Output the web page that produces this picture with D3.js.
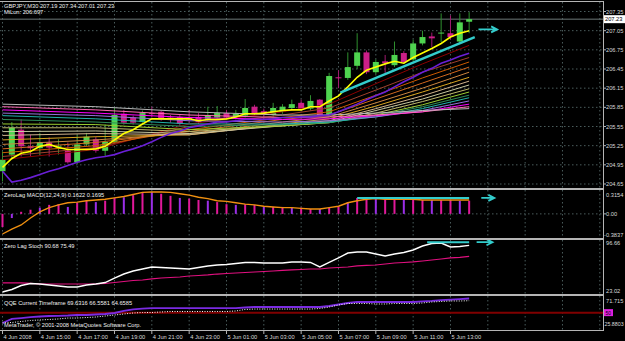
<!DOCTYPE html>
<html>
<head>
<meta charset="utf-8">
<script src="https://cdn.jsdelivr.net/npm/d3@7"></script>
<style>
  html, body { margin:0; padding:0; background:#000; }
  svg { display:block; }
  text { font-family:"Liberation Sans", Arial, sans-serif; font-size:5.7px; fill:#d8d8d8; }
</style>
</head>
<body>
<svg id="chart" width="625" height="341"></svg>
<script>
/* GBPJPY M30 — main chart + 3 sub windows */

const timeLabels = ['4 Jun 2008','4 Jun 15:00','4 Jun 17:00','4 Jun 19:00','4 Jun 21:00','4 Jun 23:00',
  '5 Jun 01:00','5 Jun 03:00','5 Jun 05:00','5 Jun 07:00','5 Jun 09:00','5 Jun 11:00','5 Jun 13:00'];

// candles, bar 0 = 4 Jun 13:00
const opens  = [204.85,205.11,205.50,205.24,205.21,205.30,205.22,205.17,204.99,205.27,205.35,205.17,205.31,205.75,205.69,205.62,205.76,
  205.78,205.69,205.70,205.69,205.70,205.67,205.69,205.76,205.69,205.72,205.86,205.79,205.73,205.78,205.84,205.92,205.83,205.97,205.73,
  206.32,206.31,206.50,206.71,206.40,206.57,206.51,206.70,206.60,206.85,206.96,207.01,207.01,206.88,207.19];
const highs  = [205.16,205.62,205.66,205.42,205.45,205.38,205.35,205.30,205.42,205.45,205.39,205.58,205.84,205.81,205.72,205.80,205.86,
  205.80,205.73,205.73,205.81,205.76,205.86,205.87,205.81,205.81,205.98,205.89,205.83,205.92,205.90,205.97,205.97,206.04,205.98,206.39,
  206.43,206.71,207.01,206.74,206.60,206.67,206.88,206.73,206.91,207.05,207.02,207.32,207.29,207.32,207.34];
const lows   = [204.69,205.03,205.08,205.08,205.11,205.08,205.11,204.97,204.96,205.24,205.14,205.08,205.30,205.58,205.58,205.61,205.69,
  205.64,205.61,205.56,205.61,205.59,205.64,205.66,205.66,205.66,205.69,205.73,205.70,205.70,205.75,205.81,205.80,205.80,205.72,205.72,
  206.15,206.28,206.45,206.37,206.37,206.39,206.48,206.53,206.57,206.82,206.79,206.87,206.91,206.85,207.01];
const closes = [205.03,205.53,205.24,205.21,205.30,205.22,205.24,204.99,205.27,205.39,205.17,205.31,205.73,205.61,205.61,205.76,205.75,
  205.67,205.66,205.59,205.66,205.62,205.73,205.76,205.69,205.75,205.84,205.76,205.73,205.84,205.86,205.90,205.83,205.95,205.73,206.34,
  206.31,206.48,206.71,206.40,206.56,206.54,206.67,206.56,206.85,206.95,206.93,207.02,206.95,207.18,207.23];

// yellow fast average and purple "MiLon" line
const fastLine = [204.91,205.05,205.13,205.16,205.24,205.27,205.22,205.19,205.19,205.19,205.20,205.24,205.34,205.44,205.50,205.59,205.67,
  205.67,205.67,205.67,205.67,205.64,205.66,205.66,205.67,205.70,205.75,205.75,205.76,205.78,205.80,205.81,205.81,205.86,205.86,205.95,
  206.03,206.17,206.32,206.43,206.48,206.53,206.57,206.54,206.63,206.70,206.77,206.85,206.95,207.01,207.05];
const miLon = [204.85,204.68,204.71,204.75,204.80,204.85,204.89,204.94,204.99,205.03,205.06,205.08,205.11,205.16,205.20,205.25,205.31,
  205.38,205.44,205.48,205.53,205.56,205.59,205.62,205.62,205.64,205.66,205.66,205.66,205.67,205.69,205.69,205.70,205.70,205.72,205.73,
  205.78,205.84,205.90,205.97,206.03,206.09,206.17,206.25,206.32,206.40,206.46,206.54,206.59,206.65,206.697];

// ribbon of averages, read at these bars (fast -> slow)
const ribbonBars = [0,10,20,30,35,40,45,50];
const ribbonLines = [
  [205.03,205.19,205.59,205.78,205.90,206.22,206.53,206.82],
  [205.08,205.22,205.55,205.73,205.84,206.12,206.40,206.63],
  [205.14,205.25,205.50,205.69,205.78,206.04,206.31,206.56],
  [205.20,205.30,205.47,205.66,205.73,205.98,206.23,206.48],
  [205.27,205.34,205.44,205.62,205.70,205.92,206.15,206.40],
  [205.34,205.39,205.42,205.59,205.67,205.87,206.09,206.32],
  [205.41,205.44,205.42,205.58,205.64,205.83,206.03,206.26],
  [205.47,205.48,205.44,205.56,205.62,205.80,205.98,206.20],
  [205.53,205.53,205.47,205.56,205.61,205.76,205.94,206.14],
  [205.59,205.58,205.50,205.56,205.61,205.73,205.89,206.09],
  [205.66,205.62,205.55,205.58,205.61,205.72,205.86,206.04],
  [205.72,205.67,205.59,205.59,205.62,205.70,205.83,206.00],
  [205.76,205.72,205.64,205.62,205.64,205.70,205.80,205.95],
  [205.81,205.76,205.69,205.66,205.67,205.72,205.78,205.90],
  [205.86,205.81,205.73,205.69,205.70,205.73,205.78,205.86],
  [205.90,205.86,205.78,205.73,205.73,205.76,205.80,205.83]
];
const ribbonColors = ['#8b0000','#a0402d','#cc5a00','#d2691e','#cd853f','#daa520','#d2b48c','#c8c8a0',
  '#bdb76b','#9acd32','#2e8b57','#20b2aa','#9370db','#ff00ff','#ff69b4','#b8b8b8'];

// cyan trend line + arrow objects
const trendBars = [36.2, 50.6], trendPrices = [206.08, 206.95];
const arrowBars = [51.0, 53.0], arrowPrice = 207.07;

const priceTicks = [207.35,207.05,206.75,206.45,206.15,205.85,205.55,205.25,204.95,204.65];
const lastPrice = 207.23;

// ZeroLag MACD
const macdHist = [-0.19,-0.06,0.03,0.06,0.09,0.13,0.14,0.10,0.16,0.19,0.17,0.19,0.23,0.24,0.27,0.30,0.315,0.29,0.26,0.23,0.22,
  0.20,0.19,0.17,0.14,0.13,0.14,0.13,0.11,0.10,0.10,0.09,0.09,0.07,0.07,0.09,0.11,0.17,0.23,0.22,0.22,0.22,0.22,0.20,0.22,0.20,
  0.20,0.20,0.20,0.19,0.19];
const macdLine = [-0.29,-0.22,-0.16,-0.06,0.03,0.09,0.13,0.16,0.17,0.19,0.20,0.21,0.23,0.25,0.28,0.31,0.3154,0.315,0.31,0.29,0.27,
  0.24,0.22,0.19,0.18,0.16,0.14,0.13,0.11,0.10,0.09,0.09,0.08,0.07,0.07,0.09,0.11,0.16,0.19,0.21,0.22,0.21,0.21,0.21,0.21,0.20,
  0.20,0.20,0.20,0.20,0.20];
const macdTrend = { bars:[38, 50], value:0.23, arrowBars:[51.3, 52.7] };

// Zero Lag Stoch
const stochMain = [26.5,29.9,35.4,38.2,37.5,36.1,34.7,33.3,33.3,36.1,37.5,39.5,45.7,51.2,55.4,58.1,60.9,60.2,59.5,58.8,58.1,
  60.2,62.3,63.6,64.3,65.7,67.1,67.1,66.4,66.4,66.4,67.8,67.8,67.1,60.9,67.1,73.3,80.1,81.5,81.5,78.8,76.0,78.8,80.8,84.3,89.8,
  93.2,93.9,88.4,89.1,90.68];
const stochSignal = [38.9,38.9,38.9,38.2,37.5,37.5,37.5,37.5,37.5,37.5,37.5,38.2,39.5,40.9,42.3,43.0,44.4,45.7,46.4,47.1,48.5,
  49.2,49.9,51.2,51.9,52.6,53.3,54.0,54.7,55.4,56.1,56.8,57.4,58.1,58.1,59.5,60.2,60.9,62.3,63.0,63.6,65.0,66.4,67.1,67.8,69.1,
  70.5,71.9,73.3,74.0,75.49];
const stochTrend = { bars:[45.5, 50], value:95.0, arrowBars:[50.8, 52.5] };

// QQE
const qqeMain = [35.6,41.2,42.5,43.9,44.6,45.3,45.6,46.0,46.7,46.7,47.4,48.1,49.5,52.3,54.4,55.7,56.4,56.4,56.4,56.4,56.4,56.4,
  56.4,56.4,56.4,56.4,57.1,57.8,57.8,57.8,57.8,57.8,57.8,57.8,57.8,59.2,61.3,63.4,64.8,64.8,64.8,64.8,64.8,64.8,64.8,65.5,66.2,
  67.5,68.2,68.9,69.63];
const qqeSignal = [35.6,36.3,37.7,39.1,39.8,40.5,41.2,42.5,42.5,43.2,43.9,45.3,46.7,48.1,49.5,50.2,50.2,50.9,51.6,51.6,51.6,51.6,
  51.6,51.6,51.6,52.3,54.4,55.0,55.0,55.0,55.0,55.0,55.0,55.0,55.7,57.8,60.6,62.7,62.7,62.7,62.0,62.0,62.7,62.7,62.7,63.4,64.8,
  65.5,66.2,66.2,66.56];

/* ── layout ── */
const svg = d3.select('#chart');
const W = 625, plotR = 603;
const panels = {
  main:  { top:2,   bottom:188 },
  macd:  { top:190, bottom:238 },
  stoch: { top:240, bottom:294 },
  qqe:   { top:296, bottom:330 }
};

const x  = d3.scaleLinear().domain([0, 64]).range([2.5, 2.5 + 9.333 * 64]);
const yP = d3.scaleLinear().domain([204.65, 207.35]).range([184, 11.5]);
const yM = d3.scaleLinear().domain([-0.3837, 0.3154]).range([240.5, 192]);
const yS = d3.scaleLinear().domain([23.02, 96.66]).range([294.5, 241]);
const yQ = d3.scaleLinear().domain([25.8803, 71.715]).range([330, 297]);

svg.append('rect').attr('width', W).attr('height', 341).attr('fill', '#000');

Object.entries(panels).forEach(([k, p]) => {
  svg.append('clipPath').attr('id', 'clip-' + k)
    .append('rect').attr('x', 0).attr('y', p.top).attr('width', plotR).attr('height', p.bottom - p.top);
});
const layer = k => svg.append('g').attr('clip-path', 'url(#clip-' + k + ')');

const gridCol = '#4a5c5c';
const gridBars = d3.range(0, 65, 4);

// vertical grid through all windows
Object.entries(panels).forEach(([k, p]) => {
  layer(k).selectAll('line').data(gridBars).enter().append('line')
    .attr('x1', d => x(d)).attr('x2', d => x(d)).attr('y1', p.top).attr('y2', p.bottom)
    .attr('stroke', gridCol).attr('stroke-dasharray', '1.5,2.5');
});

/* ── main window ── */
const gMain = layer('main');
gMain.selectAll('line.hg').data(priceTicks).enter().append('line').attr('class', 'hg')
  .attr('x1', 0).attr('x2', plotR).attr('y1', d => yP(d)).attr('y2', d => yP(d))
  .attr('stroke', gridCol).attr('stroke-dasharray', '1.5,2.5');
gMain.append('line').attr('x1', 0).attr('x2', plotR).attr('y1', yP(lastPrice)).attr('y2', yP(lastPrice))
  .attr('stroke', '#6c7878');

const bars = opens.map((o, i) => ({ i, o, h:highs[i], l:lows[i], c:closes[i] }));
const bullBody = '#4fd44f', bearBody = '#cc1f88';

gMain.selectAll('line.wick').data(bars).enter().append('line').attr('class', 'wick')
  .attr('x1', d => x(d.i)).attr('x2', d => x(d.i)).attr('y1', d => yP(d.h)).attr('y2', d => yP(d.l))
  .attr('stroke', d => d.c >= d.o ? '#2f8f2f' : '#a01a70');
gMain.selectAll('rect.body').data(bars).enter().append('rect').attr('class', 'body')
  .attr('x', d => x(d.i) - 3).attr('width', 6)
  .attr('y', d => yP(Math.max(d.o, d.c)))
  .attr('height', d => Math.max(1, Math.abs(yP(d.o) - yP(d.c))))
  .attr('fill', d => d.c >= d.o ? bullBody : bearBody);

const lineP = d3.line().x(d => x(d[0])).y(d => yP(d[1]));
ribbonLines.forEach((vals, k) => {
  gMain.append('path').datum(vals.map((v, j) => [ribbonBars[j], v]))
    .attr('d', lineP).attr('fill', 'none').attr('stroke', ribbonColors[k]).attr('stroke-width', 1);
});
gMain.append('path').datum(miLon.map((v, i) => [i, v])).attr('d', lineP)
  .attr('fill', 'none').attr('stroke', '#6a1fd6').attr('stroke-width', 1.6);
gMain.append('path').datum(fastLine.map((v, i) => [i, v])).attr('d', lineP)
  .attr('fill', 'none').attr('stroke', '#ffff00').attr('stroke-width', 1.6);

function arrow(g, x1, x2, y) {
  g.append('path')
    .attr('d', 'M' + x1 + ',' + y + 'L' + x2 + ',' + y + 'M' + (x2 - 6) + ',' + (y - 3) + 'L' + x2 + ',' + y + 'L' + (x2 - 6) + ',' + (y + 3))
    .attr('fill', 'none').attr('stroke', '#33cccc').attr('stroke-width', 1.8);
}
gMain.append('path').datum(trendBars.map((b, j) => [b, trendPrices[j]])).attr('d', lineP)
  .attr('fill', 'none').attr('stroke', '#33cccc').attr('stroke-width', 2.4);
arrow(gMain, x(arrowBars[0]), x(arrowBars[1]), yP(arrowPrice));

/* ── MACD ── */
const gM = layer('macd');
gM.append('line').attr('x1', 0).attr('x2', plotR).attr('y1', yM(0)).attr('y2', yM(0))
  .attr('stroke', gridCol).attr('stroke-dasharray', '1.5,2.5');
gM.selectAll('rect').data(macdHist).enter().append('rect')
  .attr('x', (d, i) => x(i) - 1).attr('width', 2)
  .attr('y', d => Math.min(yM(d), yM(0))).attr('height', d => Math.abs(yM(d) - yM(0)))
  .attr('fill', (d, i) => i % 3 === 1 ? '#9a2ee6' : '#e0189a');
gM.append('path').datum(macdLine.map((v, i) => [i, v]))
  .attr('d', d3.line().x(d => x(d[0])).y(d => yM(d[1])))
  .attr('fill', 'none').attr('stroke', '#f09010').attr('stroke-width', 1.4);
gM.append('line').attr('x1', x(macdTrend.bars[0])).attr('x2', x(macdTrend.bars[1]))
  .attr('y1', yM(macdTrend.value)).attr('y2', yM(macdTrend.value))
  .attr('stroke', '#33cccc').attr('stroke-width', 2);
arrow(gM, x(macdTrend.arrowBars[0]), x(macdTrend.arrowBars[1]), yM(macdTrend.value));

/* ── Stoch ── */
const gS = layer('stoch');
gS.append('path').datum(stochSignal.map((v, i) => [i, v]))
  .attr('d', d3.line().x(d => x(d[0])).y(d => yS(d[1])))
  .attr('fill', 'none').attr('stroke', '#e0107f').attr('stroke-width', 1.2);
gS.append('path').datum(stochMain.map((v, i) => [i, v]))
  .attr('d', d3.line().x(d => x(d[0])).y(d => yS(d[1])))
  .attr('fill', 'none').attr('stroke', '#ffffff').attr('stroke-width', 1.4);
gS.append('line').attr('x1', x(stochTrend.bars[0])).attr('x2', x(stochTrend.bars[1]))
  .attr('y1', yS(stochTrend.value)).attr('y2', yS(stochTrend.value))
  .attr('stroke', '#33cccc').attr('stroke-width', 2);
arrow(gS, x(stochTrend.arrowBars[0]), x(stochTrend.arrowBars[1]), yS(stochTrend.value));

/* ── QQE ── */
const gQ = layer('qqe');
gQ.append('line').attr('x1', 0).attr('x2', plotR).attr('y1', yQ(50)).attr('y2', yQ(50))
  .attr('stroke', '#800000').attr('stroke-width', 2);
gQ.append('path').datum(qqeMain.map((v, i) => [i, v]))
  .attr('d', d3.line().x(d => x(d[0])).y(d => yQ(d[1])))
  .attr('fill', 'none').attr('stroke', '#7a2be2').attr('stroke-width', 1.8);
gQ.append('path').datum(qqeSignal.map((v, i) => [i, v]))
  .attr('d', d3.line().x(d => x(d[0])).y(d => yQ(d[1])))
  .attr('fill', 'none').attr('stroke', '#ffffff').attr('stroke-width', 1).attr('stroke-dasharray', '1,1.5');

/* ── frames ── */
const frameCol = '#b4b4b4';
svg.append('line').attr('x1', 0).attr('x2', plotR).attr('y1', 1.5).attr('y2', 1.5).attr('stroke', frameCol);
[189, 239, 295].forEach(y => {
  svg.append('line').attr('x1', 0).attr('x2', plotR).attr('y1', y).attr('y2', y).attr('stroke', frameCol).attr('stroke-width', 2);
});
svg.append('line').attr('x1', 0).attr('x2', plotR).attr('y1', 330.5).attr('y2', 330.5).attr('stroke', frameCol);
svg.append('line').attr('x1', plotR + 0.5).attr('x2', plotR + 0.5).attr('y1', 1).attr('y2', 331).attr('stroke', frameCol);

/* ── right axis labels ── */
function rLabel(y, t) {
  svg.append('line').attr('x1', plotR).attr('x2', plotR + 3).attr('y1', y).attr('y2', y).attr('stroke', frameCol);
  svg.append('text').attr('x', plotR + 3).attr('y', y + 2).text(t);
}
priceTicks.forEach(p => rLabel(yP(p), p.toFixed(2)));
svg.append('rect').attr('x', 604).attr('y', yP(lastPrice) - 4).attr('width', 21).attr('height', 8).attr('fill', '#fff');
svg.append('text').attr('x', 605).attr('y', yP(lastPrice) + 2).style('fill', '#000').text(lastPrice.toFixed(2));

svg.append('text').attr('x', 606).attr('y', 196.5).text('0.3154');
rLabel(yM(0), '0.00');
svg.append('text').attr('x', 604).attr('y', 236.5).text('-0.3837');
svg.append('text').attr('x', 606).attr('y', 245).text('96.66');
svg.append('text').attr('x', 606).attr('y', 293).text('23.02');
svg.append('text').attr('x', 606).attr('y', 302.5).text('71.715');
svg.append('rect').attr('x', 604).attr('y', yQ(50) - 3.5).attr('width', 9).attr('height', 7).attr('fill', '#e020e0');
svg.append('text').attr('x', 605.5).attr('y', yQ(50) + 2).style('fill', '#000').style('font-size', '5px').text('50');
svg.append('text').attr('x', 604.5).attr('y', 326).style('font-size', '5.3px').text('25.8803');

/* ── time axis ── */
timeLabels.forEach((t, k) => {
  const bx = x(k * 4);
  svg.append('line').attr('x1', bx).attr('x2', bx).attr('y1', 331).attr('y2', 334).attr('stroke', frameCol);
  svg.append('text').attr('x', bx + 1).attr('y', 339).text(t);
});

/* ── window captions ── */
const cap = (y, t) => svg.append('text').attr('x', 4).attr('y', y).style('fill', '#f0f0f0').text(t);
cap(8, 'GBPJPY,M30  207.19 207.34 207.01 207.23');
cap(14, 'MiLon: 206.697');
cap(197, 'ZeroLag MACD(12,24,9) 0.1622 0.1695');
cap(248, 'Zero Lag Stoch 90.68 75.49');
cap(305, 'QQE Current Timeframe 69.6316 66.5581 64.6585');
cap(327, 'MetaTrader, \u00a9 2001-2008 MetaQuotes Software Corp.');
</script>
</body>
</html>
